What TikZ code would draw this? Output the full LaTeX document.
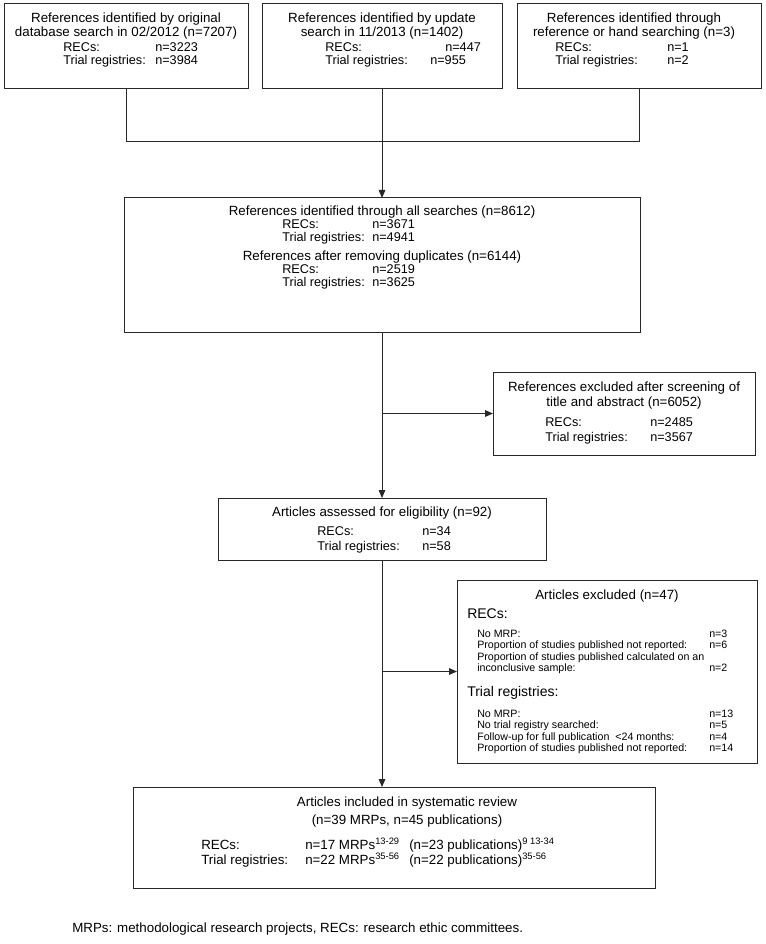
\documentclass[tikz,border=0pt]{standalone}
\usepackage{fontspec}
\setmainfont{Liberation Sans}
\usetikzlibrary{arrows.meta}
\definecolor{linegray}{RGB}{40,40,40}
\tikzset{
  flowbox/.style 2 args={draw=linegray, line width=0.75pt, minimum width=#1*0.75pt, minimum height=#2*0.75pt, inner sep=0pt, outer sep=0pt},
  txt/.style={inner sep=0pt, font=\fontsize{10}{12}\selectfont},
  rowtxt/.style={inner sep=0pt, font=\fontsize{9.5}{11}\selectfont},
  headtxt/.style={inner sep=0pt, font=\fontsize{10.5}{12}\selectfont},
  smalltxt/.style={inner sep=0pt, font=\fontsize{8}{10}\selectfont},
  link/.style={draw=linegray, line width=0.75pt},
  arr/.style={link, -{Triangle[length=6pt,width=5pt]}},
}
\begin{document}
\begin{tikzpicture}[x=0.75pt,y=0.75pt,yscale=-1,xscale=1]
%set diagram left start at 0, and has height of 944
\path[use as bounding box] (0,0) rectangle (765,944);

%Shape: Rectangle [orig]
\node [flowbox={244}{85}] (orig) at (126,46.5) {};
%Shape: Rectangle [upd]
\node [flowbox={240}{85}] (upd) at (382,46.5) {};
%Shape: Rectangle [hand]
\node [flowbox={244}{85}] (hand) at (639,46.5) {};
%Shape: Rectangle [all]
\node [flowbox={516}{135}] (all) at (382,265.5) {};
%Shape: Rectangle [scr]
\node [flowbox={262}{83}] (scr) at (624,413.5) {};
%Shape: Rectangle [elig]
\node [flowbox={328}{62}] (elig) at (382,529) {};
%Shape: Rectangle [excl]
\node [flowbox={300}{183}] (excl) at (607,671.5) {};
%Shape: Rectangle [incl]
\node [flowbox={522}{101}] (incl) at (394,837.5) {};

%Straight Lines
\coordinate (joinL) at (126,142);
\coordinate (joinR) at (639,142);
\coordinate (forkA) at (382,413.5);
\coordinate (forkB) at (382,671.5);
\draw [link] (orig.south) -- (joinL) -- (joinR) -- (hand.south);
\draw [arr] (upd.south) -- (all.north);
\draw [arr] (all.south) -- (elig.north);
\draw [arr] (forkA) -- (scr.west);
\draw [arr] (elig.south) -- (elig.south |- incl.north);
\draw [arr] (forkB) -- (excl.west);

% Text Node
\draw (126,22.5) node (origT1) [txt, anchor=base] {References identified by original};
\draw (126,36.5) node (origT2) [txt, anchor=base] {database search in 02/2012 (n=7207)};
\draw (63,51.5) node (origRecs) [rowtxt, anchor=base west] {RECs:};
\draw (155,51.5) node (origRecsN) [rowtxt, anchor=base west] {n=3223};
\draw (63,64.5) node (origTrial) [rowtxt, anchor=base west] {Trial registries:};
\draw (155,64.5) node (origTrialN) [rowtxt, anchor=base west] {n=3984};
% Text Node
\draw (382,22.5) node (updT1) [txt, anchor=base] {References identified by update};
\draw (382,36.5) node (updT2) [txt, anchor=base] {search in 11/2013 (n=1402)};
\draw (325,51.5) node (updRecs) [rowtxt, anchor=base west] {RECs:};
\draw (445,51.5) node (updRecsN) [rowtxt, anchor=base west] {n=447};
\draw (325,64.5) node (updTrial) [rowtxt, anchor=base west] {Trial registries:};
\draw (430,64.5) node (updTrialN) [rowtxt, anchor=base west] {n=955};
% Text Node
\draw (634,22.5) node (handT1) [txt, anchor=base] {References identified through};
\draw (634,36.5) node (handT2) [txt, anchor=base] {reference or hand searching (n=3)};
\draw (555,51.5) node (handRecs) [rowtxt, anchor=base west] {RECs:};
\draw (667,51.5) node (handRecsN) [rowtxt, anchor=base west] {n=1};
\draw (555,64.5) node (handTrial) [rowtxt, anchor=base west] {Trial registries:};
\draw (667,64.5) node (handTrialN) [rowtxt, anchor=base west] {n=2};

% Text Node
\draw (382,215.5) node (allT1) [txt, anchor=base] {References identified through all searches (n=8612)};
\draw (282,228.5) node (allRecs) [rowtxt, anchor=base west] {RECs:};
\draw (372,228.5) node (allRecsN) [rowtxt, anchor=base west] {n=3671};
\draw (282,241.5) node (allTrial) [rowtxt, anchor=base west] {Trial registries:};
\draw (372,241.5) node (allTrialN) [rowtxt, anchor=base west] {n=4941};
\draw (382,260.5) node (allT2) [txt, anchor=base] {References after removing duplicates (n=6144)};
\draw (282,273.5) node (dupRecs) [rowtxt, anchor=base west] {RECs:};
\draw (372,273.5) node (dupRecsN) [rowtxt, anchor=base west] {n=2519};
\draw (282,286.5) node (dupTrial) [rowtxt, anchor=base west] {Trial registries:};
\draw (372,286.5) node (dupTrialN) [rowtxt, anchor=base west] {n=3625};

% Text Node
\draw (624,391.5) node (scrT1) [txt, anchor=base] {References excluded after screening of};
\draw (624,406.5) node (scrT2) [txt, anchor=base] {title and abstract (n=6052)};
\draw (545,426.5) node (scrRecs) [rowtxt, anchor=base west] {RECs:};
\draw (650,426.5) node (scrRecsN) [rowtxt, anchor=base west] {n=2485};
\draw (545,441.5) node (scrTrial) [rowtxt, anchor=base west] {Trial registries:};
\draw (650,441.5) node (scrTrialN) [rowtxt, anchor=base west] {n=3567};

% Text Node
\draw (382,516.5) node (eligT) [txt, anchor=base] {Articles assessed for eligibility (n=92)};
\draw (317,535.5) node (eligRecs) [rowtxt, anchor=base west] {RECs:};
\draw (422,535.5) node (eligRecsN) [rowtxt, anchor=base west] {n=34};
\draw (317,550.5) node (eligTrial) [rowtxt, anchor=base west] {Trial registries:};
\draw (422,550.5) node (eligTrialN) [rowtxt, anchor=base west] {n=58};

% Text Node
\draw (607,599.5) node (exclT) [txt, anchor=base] {Articles excluded (n=47)};
\draw (467,618.5) node (exclRecs) [headtxt, anchor=base west] {RECs:};
\draw (477,637) node (exclR1) [smalltxt, anchor=base west] {No MRP:};
\draw (709,637) node (exclR1N) [smalltxt, anchor=base west] {n=3};
\draw (477,648.5) node (exclR2) [smalltxt, anchor=base west] {Proportion of studies published not reported:};
\draw (709,648.5) node (exclR2N) [smalltxt, anchor=base west] {n=6};
\draw (477,660) node (exclR3) [smalltxt, anchor=base west] {Proportion of studies published calculated on an};
\draw (477,671.5) node (exclR4) [smalltxt, anchor=base west] {inconclusive sample:};
\draw (709,671.5) node (exclR4N) [smalltxt, anchor=base west] {n=2};
\draw (467,696.5) node (exclTrial) [headtxt, anchor=base west] {Trial registries:};
\draw (477,717) node (exclT1) [smalltxt, anchor=base west] {No MRP:};
\draw (709,717) node (exclT1N) [smalltxt, anchor=base west] {n=13};
\draw (477,728.5) node (exclT2) [smalltxt, anchor=base west] {No trial registry searched:};
\draw (709,728.5) node (exclT2N) [smalltxt, anchor=base west] {n=5};
\draw (477,740) node (exclT3) [smalltxt, anchor=base west] {Follow-up for full publication\ \ {<}24 months:};
\draw (709,740) node (exclT3N) [smalltxt, anchor=base west] {n=4};
\draw (477,751.5) node (exclT4) [smalltxt, anchor=base west] {Proportion of studies published not reported:};
\draw (709,751.5) node (exclT4N) [smalltxt, anchor=base west] {n=14};

% Text Node
\draw (407,806.5) node (inclT1) [txt, anchor=base] {Articles included in systematic review};
\draw (407,824.5) node (inclT2) [txt, anchor=base] {(n=39 MRPs, n=45 publications)};
\draw (201,849.5) node (inclRecs) [txt, anchor=base west] {RECs:};
\draw (305,849.5) node (inclRecsN) [txt, anchor=base west] {n=17 MRPs\textsuperscript{13-29}};
\draw (409,849.5) node (inclRecsP) [txt, anchor=base west] {(n=23 publications)\textsuperscript{9 13-34}};
\draw (201,864.5) node (inclTrial) [txt, anchor=base west] {Trial registries:};
\draw (305,864.5) node (inclTrialN) [txt, anchor=base west] {n=22 MRPs\textsuperscript{35-56}};
\draw (409,864.5) node (inclTrialP) [txt, anchor=base west] {(n=22 publications)\textsuperscript{35-56}};

% Text Node
\draw (72,932) node (note) [txt, anchor=base west] {MRPs: methodological research projects, RECs: research ethic committees.};

\end{tikzpicture}
\end{document}
